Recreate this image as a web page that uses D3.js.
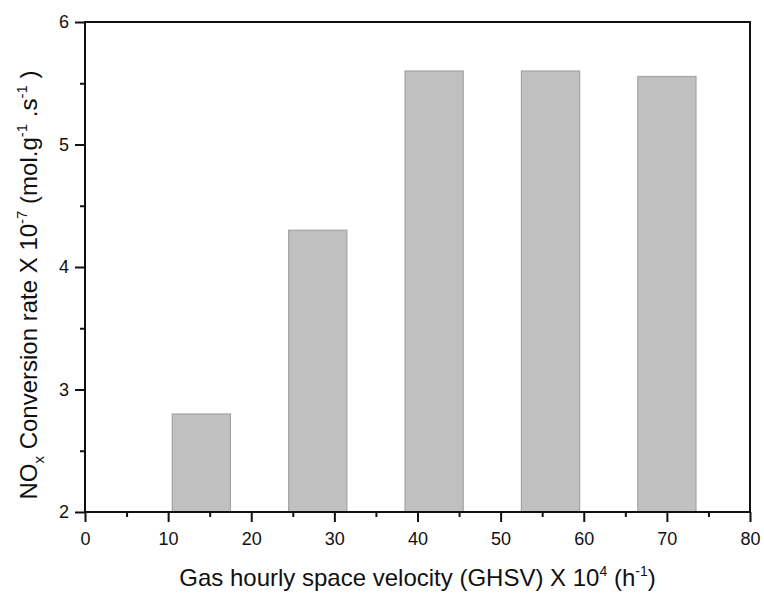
<!DOCTYPE html>
<html>
<head>
<meta charset="utf-8">
<script src="https://cdn.jsdelivr.net/npm/d3@7"></script>
<style>
  body { margin: 0; background: #fff; }
  text { font-family: "Liberation Sans", Arial, sans-serif; fill: #111; }
</style>
</head>
<body>
<div class="chart"></div>
<script>
// data
let ghsv = [14, 28, 42, 56, 70];
let rate = [2.8, 4.3, 5.6, 5.6, 5.555];
let xTicks = [0, 10, 20, 30, 40, 50, 60, 70, 80];
let yTicks = [2, 3, 4, 5, 6];
let barWidth = 7; // in GHSV units

let margin = { top: 22, right: 14, bottom: 81, left: 85 },
  width = 764 - margin.left - margin.right,
  height = 593 - margin.top - margin.bottom;

let svg = d3.select(".chart")
  .append("svg")
  .attr("width", 764)
  .attr("height", 593)
  .append("g")
  .attr("transform", "translate(" + margin.left + "," + margin.top + ")");

let x = d3.scaleLinear().domain([0, 80]).range([0, width]);
let y = d3.scaleLinear().domain([2, 6]).range([height, 0]);

// bars
svg.selectAll(".bar")
  .data(ghsv)
  .enter()
  .append("rect")
  .attr("class", "bar")
  .attr("x", (d) => x(d - barWidth / 2))
  .attr("width", x(barWidth) - x(0))
  .attr("y", (d, i) => y(rate[i]))
  .attr("height", (d, i) => height - y(rate[i]))
  .attr("fill", "#c0c0c0")
  .attr("stroke", "#a3a3a3")
  .attr("stroke-width", 1.2);

// minor ticks
let xAxisMinor = d3.axisBottom(x).tickValues(d3.range(5, 80, 10)).tickSize(5).tickFormat("");
let yAxisMinor = d3.axisLeft(y).tickValues([2.5, 3.5, 4.5, 5.5]).tickSize(5).tickFormat("");

let xAxis = d3.axisBottom(x).tickValues(xTicks).tickSize(10).tickPadding(10)
  .tickFormat(d3.format("d")).tickSizeOuter(0);
let yAxis = d3.axisLeft(y).tickValues(yTicks).tickSize(10).tickPadding(6)
  .tickFormat(d3.format("d")).tickSizeOuter(0);

svg.append("g").attr("class", "x-minor")
  .attr("transform", "translate(0," + height + ")")
  .call(xAxisMinor);
svg.append("g").attr("class", "y-minor").call(yAxisMinor);

let xAxisGroup = svg.append("g").attr("class", "x-axis axis")
  .attr("transform", "translate(0," + height + ")")
  .call(xAxis);
let yAxisGroup = svg.append("g").attr("class", "y-axis axis").call(yAxis);

svg.selectAll(".x-minor .domain, .y-minor .domain").remove();
svg.selectAll(".tick line").attr("stroke", "#111").attr("stroke-width", 2);
svg.selectAll(".axis text").style("font-size", "18px").attr("fill", "#111");
svg.selectAll(".axis .domain").remove();

// frame
svg.append("rect")
  .attr("x", 0).attr("y", 0)
  .attr("width", width).attr("height", height)
  .attr("fill", "none")
  .attr("stroke", "#111")
  .attr("stroke-width", 2);

// axis titles
let xt = svg.append("text")
  .attr("x", width / 2)
  .attr("y", height + 74)
  .attr("text-anchor", "middle")
  .style("font-size", "24px");
xt.append("tspan").text("Gas hourly space velocity (GHSV) X 10");
xt.append("tspan").attr("dy", -10).style("font-size", "14px").text("4");
xt.append("tspan").attr("dy", 10).text(" (h");
xt.append("tspan").attr("dy", -10).style("font-size", "14px").text("-1");
xt.append("tspan").attr("dy", 10).text(")");

let yt = svg.append("text")
  .attr("transform", "translate(" + (-48) + "," + (height / 2 + 18) + ") rotate(-90)")
  .attr("text-anchor", "middle")
  .style("font-size", "24px");
yt.append("tspan").text("NO");
yt.append("tspan").attr("dy", 7).style("font-size", "15px").text("x");
yt.append("tspan").attr("dy", -7).text(" Conversion rate X 10");
yt.append("tspan").attr("dy", -10).style("font-size", "15px").text("-7");
yt.append("tspan").attr("dy", 10).text(" (mol.g");
yt.append("tspan").attr("dy", -10).style("font-size", "15px").text("-1");
yt.append("tspan").attr("dy", 10).text(" .s");
yt.append("tspan").attr("dy", -10).style("font-size", "15px").text("-1");
yt.append("tspan").attr("dy", 10).text(" )");
</script>
</body>
</html>
